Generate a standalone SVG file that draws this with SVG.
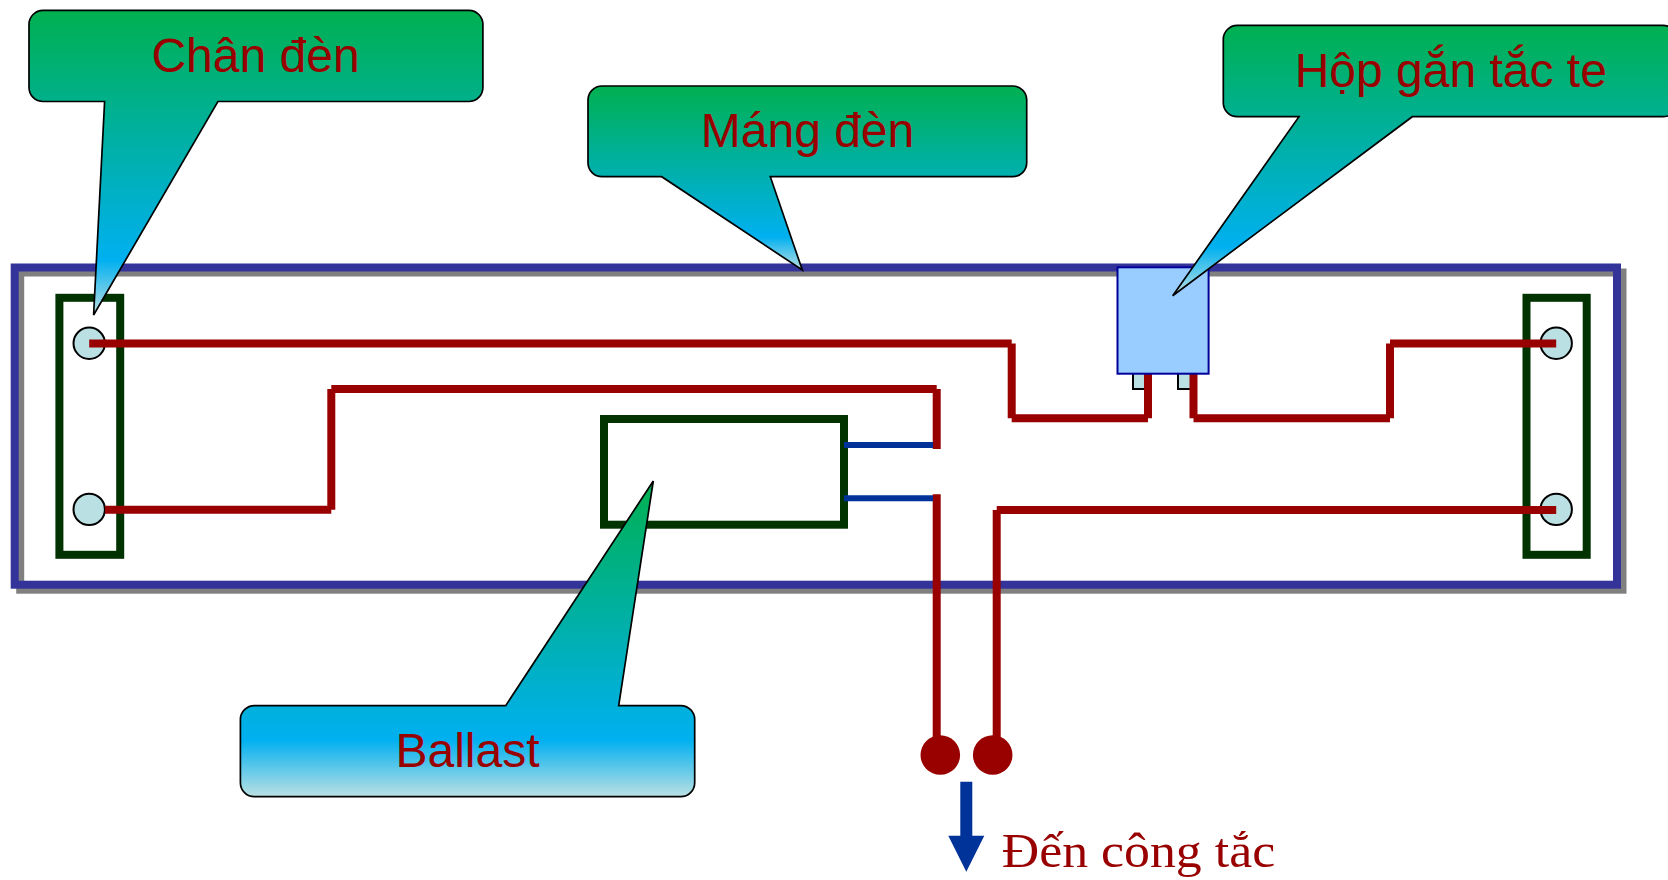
<svg xmlns="http://www.w3.org/2000/svg" width="1668" height="880" viewBox="0 0 1668 880">
<style>
.frame{fill:none;stroke:#333399;stroke-width:8}
.shadow{fill:none;stroke:#808080;stroke-width:8}
.holder{fill:none;stroke:#003300;stroke-width:8}
.pin{fill:#BBE0E3;stroke:#000;stroke-width:2}
.wire{fill:none;stroke:#990000;stroke-width:8;stroke-linecap:butt}
.link{fill:none;stroke:#003399;stroke-width:6}
.dot{fill:#990000}
.callout{stroke:#000;stroke-width:1.7;stroke-linejoin:miter}
.label{font-family:"Liberation Sans",Arial,sans-serif;font-size:48px;fill:#990000;text-anchor:middle}
.serif{font-family:"Liberation Serif","Times New Roman",serif;font-size:49px;fill:#990000}
</style>
<defs>
<linearGradient id="gradDown" x1="0" y1="0" x2="0" y2="1">
<stop offset="0" stop-color="#00B050"/><stop offset="0.82" stop-color="#00B0F0"/><stop offset="1" stop-color="#BBE0E3"/>
</linearGradient>
</defs>
<rect width="1668" height="880" fill="#fff"/>
<g id="mang-den">
<rect class="shadow" x="20.2" y="272.5" width="1602.3" height="317.2"/>
<rect class="frame" x="14.7" y="267.5" width="1602.3" height="317.2"/>
</g>
<g id="chan-den-trai">
<rect class="holder" x="59.4" y="297.8" width="60.8" height="257"/>
</g>
<g id="chan-den-phai">
<rect class="holder" x="1526.5" y="297.8" width="60.2" height="257"/>
</g>
<g id="ballast-box">
<rect class="holder" x="604" y="419" width="240" height="105.7"/>
</g>
<g id="tac-te-pins">
<rect class="pin" x="1133" y="373" width="16" height="16"/>
<rect class="pin" x="1178" y="373" width="16" height="16"/>
</g>
<g id="pin-bottom-left"><circle class="pin" cx="89.2" cy="509.4" r="15.7"/></g>
<g id="pin-top-left"><circle class="pin" cx="89.2" cy="343.3" r="15.7"/></g>
<g id="pin-top-right"><circle class="pin" cx="1556.2" cy="343.3" r="15.7"/></g>
<g id="pin-bottom-right"><circle class="pin" cx="1556.2" cy="509.4" r="15.7"/></g>
<g id="connectors">
<path class="wire" d="M89.2 343.4H1011.7M1011.7 343.4V418.3M1011.7 418.3H1148M1148 418.3V373"/>
<path class="wire" d="M1193.5 373V418.3M1193.5 418.3H1390M1390 418.3V343.4M1390 343.4H1556.2"/>
<path class="wire" d="M105 509.7H331.3M331.3 509.7V389M331.3 389H936.7M936.7 389V449"/>
<path class="wire" d="M936.7 494.3V738"/>
<path class="wire" d="M996.7 738V510M996.7 510H1556.2"/>
<path class="link" d="M844 445H933M844 498.3H933"/>
</g>
<g id="terminal-1"><circle class="dot" cx="940.3" cy="755" r="19.8"/></g>
<g id="terminal-2"><circle class="dot" cx="992.7" cy="755" r="19.8"/></g>
<g id="tac-te-box">
<rect x="1117.5" y="267.3" width="91.1" height="106.4" fill="#99CCFF" stroke="#000099" stroke-width="2"/>
</g>
<g id="callout-chan-den">
<path class="callout" fill="url(#gradDown)" d="M43 10.4H468.9A14 14 0 0 1 482.9 24.4V87.5A14 14 0 0 1 468.9 101.5H217.9L93.6 315L104.6 101.5H43A14 14 0 0 1 29 87.5V24.4A14 14 0 0 1 43 10.4Z"/>
<text class="label" x="255.5" y="71.7">Chân đèn</text>
</g>
<g id="callout-mang-den">
<path class="callout" fill="url(#gradDown)" d="M602 86H1012.7A14 14 0 0 1 1026.7 100V162.7A14 14 0 0 1 1012.7 176.7H770.3L802.3 270L661.7 176.7H602A14 14 0 0 1 588 162.7V100A14 14 0 0 1 602 86Z"/>
<text class="label" x="807.5" y="147.3">Máng đèn</text>
</g>
<g id="callout-hop-tac-te">
<path class="callout" fill="url(#gradDown)" d="M1237.3 25.4H1663A14 14 0 0 1 1677 39.4V102.7A14 14 0 0 1 1663 116.7H1412.3L1172.7 295.7L1299 116.7H1237.3A14 14 0 0 1 1223.3 102.7V39.4A14 14 0 0 1 1237.3 25.4Z"/>
<text class="label" x="1450.8" y="87.3">Hộp gắn tắc te</text>
</g>
<g id="callout-ballast">
<path class="callout" fill="url(#gradDown)" d="M254.4 705.6H505.7L653.3 481L618.7 705.6H680.7A14 14 0 0 1 694.7 719.6V782.7A14 14 0 0 1 680.7 796.7H254.4A14 14 0 0 1 240.4 782.7V719.6A14 14 0 0 1 254.4 705.6Z"/>
<text class="label" x="467.5" y="766.7">Ballast</text>
</g>
<g id="arrow-den-cong-tac">
<path fill="#003399" d="M960.3 781.7H972.3V835.7H984.3L966.3 871.7L948.3 835.7H960.3Z"/>
<text class="serif" x="1001.7" y="867.3" textLength="273.5" lengthAdjust="spacingAndGlyphs">Đến công tắc</text>
</g>
</svg>
